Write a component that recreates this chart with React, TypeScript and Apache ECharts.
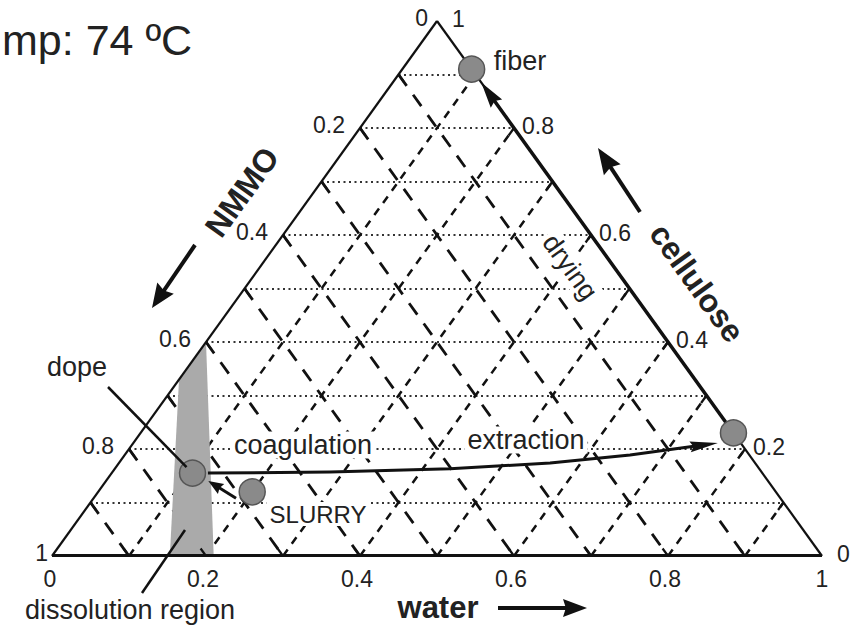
import React, { useEffect, useRef } from "react";
import * as echarts from "echarts";

// Ternary composition: water (bottom axis), cellulose (right axis), NMMO = 1 - water - cellulose
const tickValues = [0, 0.2, 0.4, 0.6, 0.8, 1];
const tickLabels = ["0", "0.2", "0.4", "0.6", "0.8", "1"];
const gridLevels = [0.1, 0.2, 0.3, 0.4, 0.5, 0.6, 0.7, 0.8, 0.9];

const pointNames = ["fiber", "extraction", "dope", "SLURRY"];
const pointWater = [0.09, 0.77, 0.105, 0.2];
const pointCellulose = [0.91, 0.23, 0.155, 0.12];

// dissolution region (grey)
const regionWater = [0, 0, 0.153, 0.21];
const regionCellulose = [0.4, 0.33, 0, 0];

// process paths
const processWater = [0.125, 0.2825, 0.4356, 0.5599, 0.6562, 0.7593];
const processCellulose = [0.155, 0.157, 0.163, 0.174, 0.189, 0.211];
const dryingWater = [0.75, 0.115];
const dryingCellulose = [0.25, 0.885];
const slurryWater = [0.185, 0.133];
const slurryCellulose = [0.108, 0.14];

const GRID = { left: 52, top: 21, width: 770, height: 535 };
const FONT = '"Liberation Sans", Arial, Helvetica, sans-serif';
const INK = "#111";

const toXY = (w: number, c: number): [number, number] => [w + c / 2, c];
const toPx = (w: number, c: number): [number, number] => [
  GRID.left + (w + c / 2) * GRID.width,
  GRID.top + GRID.height * (1 - c),
];

function txt(
  text: string,
  x: number,
  y: number,
  o: { size: number; bold?: boolean; align?: string; rotation?: number; bg?: string; pad?: number[] }
) {
  return {
    type: "text",
    x,
    y,
    rotation: o.rotation || 0,
    z: 100,
    style: {
      text,
      x: 0,
      y: 0,
      fill: "#222",
      fontSize: o.size,
      fontWeight: o.bold ? "bold" : "normal",
      fontFamily: FONT,
      align: o.align || "center",
      verticalAlign: "middle",
      backgroundColor: o.bg,
      padding: o.pad,
    },
  };
}

function arrowShapes(x1: number, y1: number, x2: number, y2: number, width: number, headLen: number, headHalf: number) {
  const dx = x2 - x1, dy = y2 - y1;
  const len = Math.hypot(dx, dy);
  const ux = dx / len, uy = dy / len;
  const bx = x2 - ux * headLen, by = y2 - uy * headLen;
  return [
    {
      type: "line",
      z: 50,
      shape: { x1, y1, x2: x2 - ux * headLen * 0.6, y2: y2 - uy * headLen * 0.6 },
      style: { stroke: INK, lineWidth: width },
    },
    {
      type: "polygon",
      z: 50,
      shape: {
        points: [
          [x2, y2],
          [bx - uy * headHalf, by + ux * headHalf],
          [x2 - ux * headLen * 0.88, y2 - uy * headLen * 0.88],
          [bx + uy * headHalf, by - ux * headHalf],
        ],
      },
      style: { fill: INK },
    },
  ];
}

function pathArrow(ws: number[], cs: number[], width: number, headLen: number, headHalf: number) {
  return (_params: any, api: any) => {
    const pts = ws.map((w, i) => api.coord(toXY(w, cs[i])));
    const tip = pts[pts.length - 1];
    const prev = pts[pts.length - 2];
    const dx = tip[0] - prev[0], dy = tip[1] - prev[1];
    const len = Math.hypot(dx, dy);
    const ux = dx / len, uy = dy / len;
    const bx = tip[0] - ux * headLen, by = tip[1] - uy * headLen;
    const linePts = [...pts.slice(0, -1), [tip[0] - ux * headLen * 0.6, tip[1] - uy * headLen * 0.6]];
    return {
      type: "group",
      children: [
        { type: "polyline", shape: { points: linePts }, style: { stroke: INK, lineWidth: width, fill: null } },
        {
          type: "polygon",
          shape: {
            points: [
              tip,
              [bx - uy * headHalf, by + ux * headHalf],
              [tip[0] - ux * headLen * 0.88, tip[1] - uy * headLen * 0.88],
              [bx + uy * headHalf, by - ux * headHalf],
            ],
          },
          style: { fill: INK },
        },
      ],
    };
  };
}

export default function App() {
  const ref = useRef<HTMLDivElement>(null);

  useEffect(() => {
    if (!ref.current) return;
    const chart = echarts.init(ref.current, undefined, { renderer: "svg" });

    const dottedLines = gridLevels.map((c) => ({ coords: [toXY(0, c), toXY(1 - c, c)] }));
    const nmmoLines = gridLevels.map((n) => ({ coords: [toXY(0, 1 - n), toXY(1 - n, 0)] }));
    const waterLines = gridLevels.map((w) => ({ coords: [toXY(w, 0), toXY(w, 1 - w)] }));
    const t = 0.014;
    const ticks = [
      ...gridLevels.map((n) => ({ coords: [toXY(0, 1 - n), toXY(t, 1 - n - t)] })),
      ...gridLevels.map((w) => ({ coords: [toXY(w, 0), toXY(w - t, t)] })),
      ...gridLevels.map((w) => ({ coords: [toXY(w, 1 - w), toXY(w, 1 - w - t)] })),
    ];
    const edges = [
      { coords: [toXY(0, 0), toXY(0, 1)], lineStyle: { width: 2.2 } },
      { coords: [toXY(0, 1), toXY(1, 0)], lineStyle: { width: 2.2 } },
      { coords: [toXY(0, 0), toXY(1, 0)], lineStyle: { width: 5 } },
    ];

    const graphics: any[] = [];
    // title (the original picture shows only the tail of it)
    graphics.push(txt("mp: 74 ºC", 2, 40, { size: 43, align: "left" }));
    // tick labels: water (bottom)
    tickValues.forEach((v, i) => {
      const [x, y] = toPx(v, 0);
      graphics.push(txt(tickLabels[i], v === 0 ? x - 2 : v === 1 ? x : x - 3, y + 23, { size: 23 }));
    });
    // NMMO (left edge)
    tickValues.forEach((n, i) => {
      const [x, y] = toPx(0, 1 - n);
      const dxo = n === 1 ? -4 : n === 0 ? -9 : -15;
      graphics.push(txt(tickLabels[i], x + dxo, y - 3, { size: 23, align: "right" }));
    });
    // cellulose (right edge)
    tickValues.forEach((c, i) => {
      const [x, y] = toPx(1 - c, c);
      const dxo = c === 0 || c === 1 ? 15 : 8;
      graphics.push(txt(tickLabels[i], x + dxo, y - 2, { size: 23, align: "left" }));
    });

    const rot = Math.atan2(GRID.height, GRID.width / 2);
    // axis titles
    graphics.push(txt("NMMO", 242, 192, { size: 32, bold: true, rotation: rot }));
    graphics.push(txt("cellulose", 697, 283, { size: 32, bold: true, rotation: -rot }));
    graphics.push(txt("water", 438, 607, { size: 31, bold: true }));
    graphics.push(...arrowShapes(195, 245, 152, 308, 4, 24, 10));
    graphics.push(...arrowShapes(640, 212, 598, 148, 4, 26, 10));
    graphics.push(...arrowShapes(498, 608, 587, 608, 4, 24, 9));

    // annotations
    const [fx, fy] = toPx(pointWater[0], pointCellulose[0]);
    graphics.push(txt(pointNames[0], fx + 22, fy - 8, { size: 27, align: "left" }));
    graphics.push(txt("drying", 570, 267, { size: 27, rotation: -rot, bg: "#fff", pad: [0, 3, 0, 3] }));
    graphics.push(txt("coagulation", 303, 445, { size: 27, bg: "#fff", pad: [0, 3, 0, 3] }));
    graphics.push(txt(pointNames[1], 526, 440, { size: 27, bg: "#fff", pad: [0, 3, 0, 3] }));
    graphics.push(txt(pointNames[3], 318, 514, { size: 24, bg: "#fff", pad: [0, 3, 0, 3] }));
    graphics.push(txt(pointNames[2], 77, 367, { size: 27 }));
    graphics.push(txt("dissolution region", 130, 610, { size: 27 }));
    // leader lines
    const [dx, dy] = toPx(pointWater[2], pointCellulose[2]);
    graphics.push({ type: "line", z: 50, shape: { x1: 108, y1: 387, x2: dx - 6, y2: dy - 6 }, style: { stroke: INK, lineWidth: 2.5 } });
    graphics.push({ type: "line", z: 50, shape: { x1: 142, y1: 593, x2: 185, y2: 530 }, style: { stroke: INK, lineWidth: 2.5 } });

    chart.setOption({
      animation: false,
      backgroundColor: "#fff",
      grid: { left: GRID.left, top: GRID.top, width: GRID.width, height: GRID.height },
      xAxis: { type: "value", min: 0, max: 1, show: false },
      yAxis: { type: "value", min: 0, max: 1, show: false },
      series: [
        {
          type: "lines",
          coordinateSystem: "cartesian2d",
          silent: true,
          z: 1,
          data: dottedLines,
          lineStyle: { color: "#333", width: 2, type: [2, 3.5], opacity: 1 },
        },
        {
          type: "lines",
          coordinateSystem: "cartesian2d",
          silent: true,
          z: 1,
          data: nmmoLines,
          lineStyle: { color: "#111", width: 2.8, type: [14, 11], opacity: 1 },
        },
        {
          type: "lines",
          coordinateSystem: "cartesian2d",
          silent: true,
          z: 1,
          data: waterLines,
          lineStyle: { color: "#111", width: 2.5, type: [8, 7], opacity: 1 },
        },
        {
          type: "custom",
          coordinateSystem: "cartesian2d",
          silent: true,
          z: 2,
          data: [[0, 0]],
          renderItem: (_p: any, api: any) => ({
            type: "polygon",
            shape: { points: regionWater.map((w, i) => api.coord(toXY(w, regionCellulose[i]))) },
            style: { fill: "#aaaaaa" },
          }),
        },
        {
          type: "lines",
          coordinateSystem: "cartesian2d",
          silent: true,
          z: 3,
          data: ticks,
          lineStyle: { color: INK, width: 2.2, type: "solid", opacity: 1 },
        },
        {
          type: "lines",
          coordinateSystem: "cartesian2d",
          silent: true,
          z: 3,
          data: edges,
          lineStyle: { color: INK, width: 2, type: "solid", opacity: 1 },
        },
        {
          type: "custom",
          coordinateSystem: "cartesian2d",
          silent: true,
          z: 4,
          data: [[0, 0]],
          renderItem: pathArrow(processWater, processCellulose, 3, 28, 5.5),
        },
        {
          type: "custom",
          coordinateSystem: "cartesian2d",
          silent: true,
          z: 4,
          data: [[0, 0]],
          renderItem: pathArrow(dryingWater, dryingCellulose, 3.5, 26, 7),
        },
        {
          type: "custom",
          coordinateSystem: "cartesian2d",
          silent: true,
          z: 4,
          data: [[0, 0]],
          renderItem: pathArrow(slurryWater, slurryCellulose, 3, 15, 6),
        },
        {
          type: "scatter",
          silent: true,
          z: 5,
          symbol: "circle",
          symbolSize: 26,
          itemStyle: { color: "#8a8a8a", borderColor: "#555", borderWidth: 1.5, opacity: 1 },
          data: pointNames.map((name, i) => ({ name, value: toXY(pointWater[i], pointCellulose[i]) })),
        },
      ],
      graphic: { elements: graphics },
    });

    return () => chart.dispose();
  }, []);

  return <div ref={ref} style={{ position: "absolute", left: 0, top: 0, width: 859, height: 629 }} />;
}
